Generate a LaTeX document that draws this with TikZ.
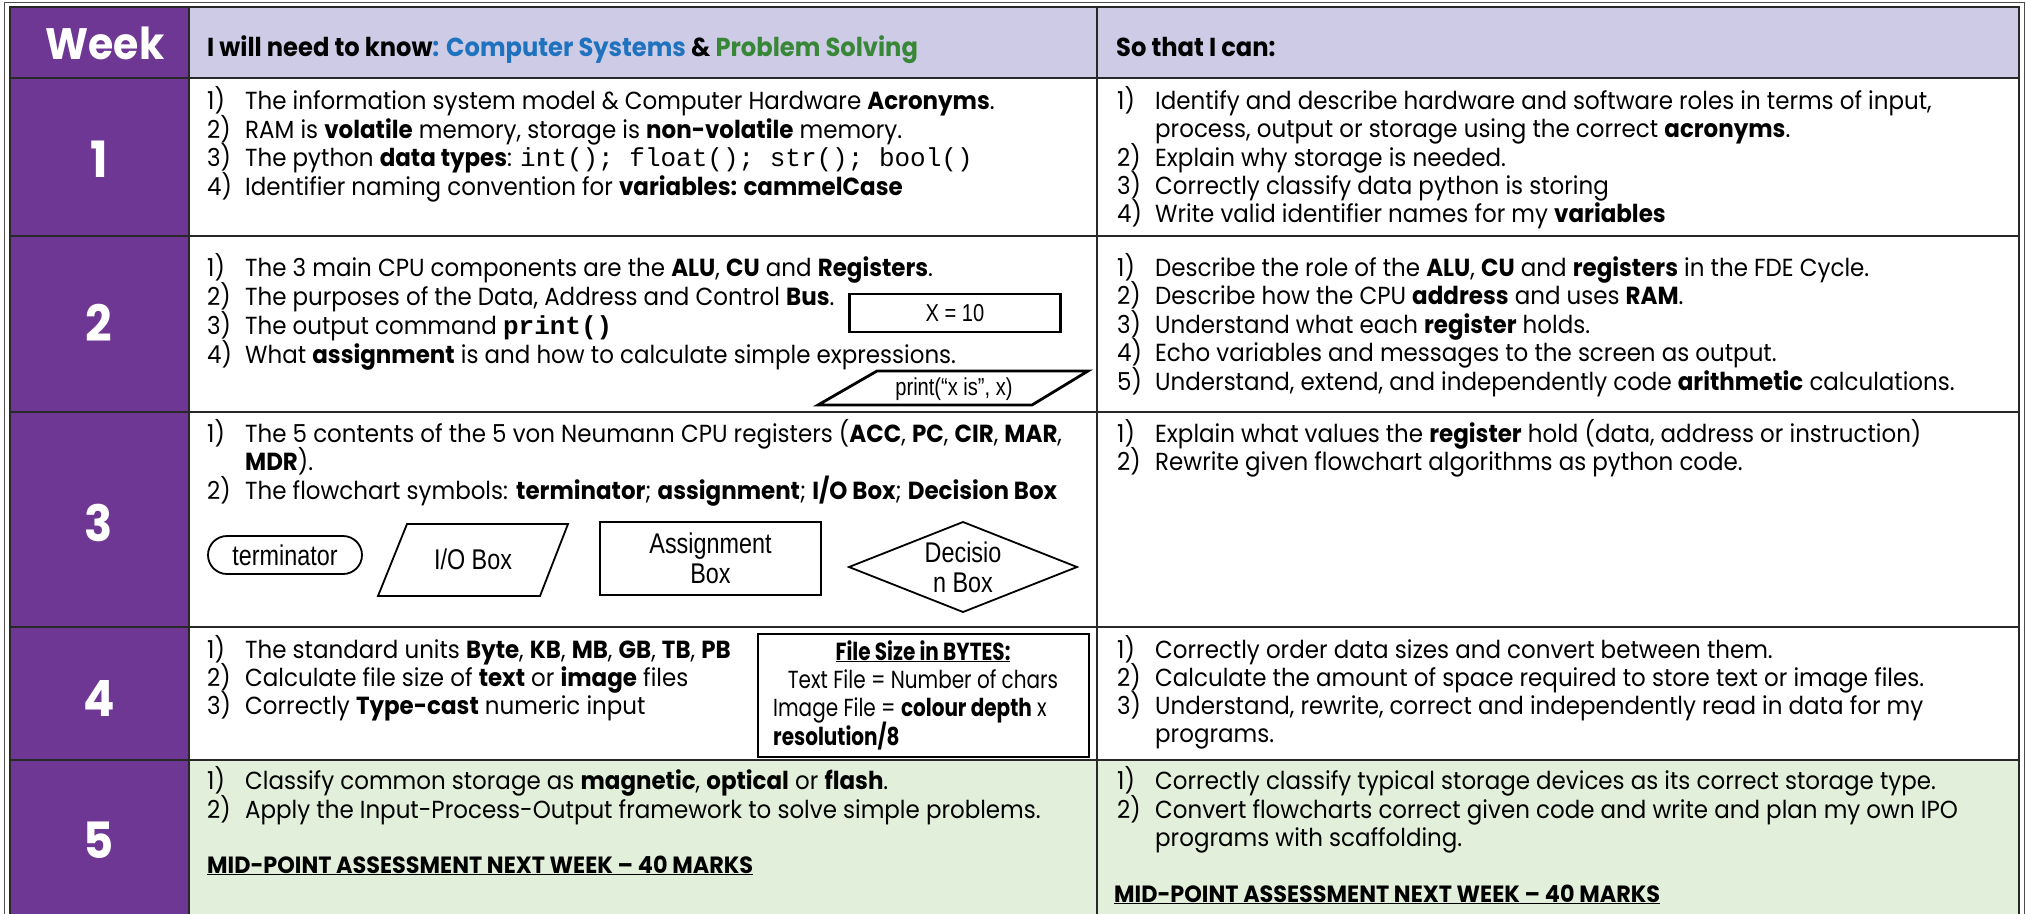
\documentclass[tikz,border=0pt]{standalone}
\usepackage{fontspec}
\setmainfont[FakeStretch=0.93]{Poppins}
\setmonofont{Liberation Mono}
\newfontfamily\chartfont[FakeStretch=0.82]{Liberation Sans}
\newfontfamily\capsfont[FakeStretch=0.95]{Poppins}
\newfontfamily\narrowfont[FakeStretch=0.81]{Poppins}

\definecolor{weekpurple}{RGB}{111,55,148}
\definecolor{headlav}{RGB}{205,203,230}
\definecolor{rowgreen}{RGB}{226,239,218}
\definecolor{sysblue}{RGB}{30,114,190}
\definecolor{solvegreen}{RGB}{55,135,55}
\definecolor{gridline}{RGB}{40,40,40}

% one line of cell text, placed by its baseline
\newcommand\cellline[4]{\node[body] (#1) at (#2,#3) {#4};}
% hanging item number
\newcommand\itemno[1]{\makebox[38pt][l]{#1}}
% code in a slightly larger monospace
\newcommand\code[1]{{\fontsize{26}{28.5}\selectfont\ttfamily #1}}

\begin{document}
\begin{tikzpicture}[x=1pt,y=-1pt,
  body/.style={font=\fontsize{24.7}{28.5}\selectfont, inner sep=0pt, anchor=base west},
  boxtext/.style={font=\narrowfont\fontsize{24.7}{28.5}\selectfont, inner sep=0pt, anchor=base west},
  headtext/.style={font=\fontsize{26}{28.5}\selectfont\bfseries, inner sep=0pt, anchor=base west},
  grid/.style={draw=gridline, line width=2.4pt},
  chartbox/.style={draw=black, line width=2.8pt},
  chartthin/.style={draw=black, line width=1.8pt},
  charttext/.style={font=\chartfont\fontsize{28.5}{30}\selectfont, inner sep=0pt, align=center},
  smallchart/.style={font=\chartfont\fontsize{24.5}{26}\selectfont, inner sep=0pt},
  weeknum/.style={font=\fontsize{50}{50}\selectfont\bfseries, text=white, inner sep=0pt},
  midpoint/.style={font=\capsfont\fontsize{23.5}{28}\selectfont\bfseries, inner sep=0pt, anchor=base west},
]
\useasboundingbox (0,0) rectangle (2026,913);

% backgrounds
\fill[white] (0,0) rectangle (2026,913);
\fill[headlav] (10,7) rectangle (2019,78);
\fill[rowgreen] (189,760) rectangle (2019,920);
\fill[weekpurple] (10,7) rectangle (189,920);

% outer frame and table grid
\draw[line width=1pt, draw=gray!60!black] (4,2) rectangle (2024,925);
\draw[grid] (10,7) rectangle (2019,925);
\foreach \yy in {78,236,412,627,760} \draw[grid] (10,\yy) -- (2019,\yy);
\draw[grid] (189,7) -- (189,925);
\draw[grid] (1097,7) -- (1097,925);

% week column
\node[font=\fontsize{44}{44}\selectfont\bfseries, text=white, inner sep=0pt] (week) at (105,43) {Week};
\node[weeknum] (w1) at (99,159) {1};
\node[weeknum] (w2) at (99,323) {2};
\node[weeknum] (w3) at (99,523) {3};
\node[weeknum] (w4) at (99,698) {4};
\node[weeknum] (w5) at (99,840) {5};

% header
\node[headtext] (hknow) at (207,56) {I will need to know\textcolor{sysblue}{: Computer Systems} \& \textcolor{solvegreen}{Problem Solving}};
\node[headtext] (hcan) at (1116,56) {So that I can:};

% week 1
\cellline{ka}{207}{109}{\itemno{1)}The information system model \& Computer Hardware \textbf{Acronyms}.}
\cellline{kb}{207}{138}{\itemno{2)}RAM is \textbf{volatile} memory, storage is \textbf{non-volatile} memory.}
\cellline{kc}{207}{166}{\itemno{3)}The python \textbf{data types}: \code{int(); float(); str(); bool()}}
\cellline{kd}{207}{195}{\itemno{4)}Identifier naming convention for \textbf{variables: cammelCase}}

\cellline{ca}{1117}{109}{\itemno{1)}Identify and describe hardware and software roles in terms of input,}
\cellline{cb}{1155}{137.5}{process, output or storage using the correct \textbf{acronyms}.}
\cellline{cc}{1117}{166}{\itemno{2)}Explain why storage is needed.}
\cellline{cd}{1117}{194}{\itemno{3)}Correctly classify data python is storing}
\cellline{ce}{1117}{222}{\itemno{4)}Write valid identifier names for my \textbf{variables}}

% week 2
\cellline{kf}{207}{276}{\itemno{1)}The 3 main CPU components are the \textbf{ALU}, \textbf{CU} and \textbf{Registers}.}
\cellline{kg}{207}{305}{\itemno{2)}The purposes of the Data, Address and Control \textbf{Bus}.}
\cellline{kh}{207}{334}{\itemno{3)}The output command \code{\bfseries print()}}
\cellline{ki}{207}{363}{\itemno{4)}What \textbf{assignment} is and how to calculate simple expressions.}

\node[chartbox, smallchart, minimum width=211, minimum height=38] (xten) at (955,313) {X = 10};
\draw[chartbox] (877,371) -- (1088,371) -- (1032,405) -- (818,405) -- cycle;
\node[smallchart] (printx) at (954,389) {print(“x is”, x)};

\cellline{cf}{1117}{276}{\itemno{1)}Describe the role of the \textbf{ALU}, \textbf{CU} and \textbf{registers} in the FDE Cycle.}
\cellline{cg}{1117}{304.5}{\itemno{2)}Describe how the CPU \textbf{address} and uses \textbf{RAM}.}
\cellline{ch}{1117}{333}{\itemno{3)}Understand what each \textbf{register} holds.}
\cellline{ci}{1117}{361.5}{\itemno{4)}Echo variables and messages to the screen as output.}
\cellline{cj}{1117}{390}{\itemno{5)}Understand, extend, and independently code \textbf{arithmetic} calculations.}

% week 3
\cellline{kl}{207}{442}{\itemno{1)}The 5 contents of the 5 von Neumann CPU registers (\textbf{ACC}, \textbf{PC}, \textbf{CIR}, \textbf{MAR},}
\cellline{km}{245}{470.5}{\textbf{MDR}).}
\cellline{kn}{207}{499}{\itemno{2)}The flowchart symbols: \textbf{terminator}; \textbf{assignment}; \textbf{I/O Box}; \textbf{Decision Box}}

\node[chartthin, charttext, rounded corners=19, minimum width=154, minimum height=38] (term) at (285,555) {terminator};
\draw[chartthin] (407,524) -- (568,524) -- (540,596) -- (378,596) -- cycle;
\node[charttext] (iobox) at (473,559) {I/O Box};
\node[chartthin, charttext, minimum width=221, minimum height=73] (assign) at (710.5,558.5) {Assignment\\Box};
\draw[chartthin] (849,567) -- (963,522) -- (1077,567) -- (963,612) -- cycle;
\node[charttext] (decide) at (963,567) {Decisio\\n Box};

\cellline{cl}{1117}{442}{\itemno{1)}Explain what values the \textbf{register} hold (data, address or instruction)}
\cellline{cm}{1117}{470.5}{\itemno{2)}Rewrite given flowchart algorithms as python code.}

% week 4
\cellline{ko}{207}{658}{\itemno{1)}The standard units \textbf{Byte}, \textbf{KB}, \textbf{MB}, \textbf{GB}, \textbf{TB}, \textbf{PB}}
\cellline{kp}{207}{686}{\itemno{2)}Calculate file size of \textbf{text} or \textbf{image} files}
\cellline{kq}{207}{714}{\itemno{3)}Correctly \textbf{Type-cast} numeric input}

\draw[chartbox] (758,634) rectangle (1089,757);
\node[boxtext, anchor=base] (fsa) at (923,660) {\bfseries\underline{File Size in BYTES:}};
\node[boxtext, anchor=base] (fsb) at (923,688) {Text File = Number of chars};
\node[boxtext] (fsc) at (773,716) {Image File = \textbf{colour depth} x};
\node[boxtext] (fsd) at (773,745) {\textbf{resolution/8}};

\cellline{co}{1117}{658}{\itemno{1)}Correctly order data sizes and convert between them.}
\cellline{cp}{1117}{686}{\itemno{2)}Calculate the amount of space required to store text or image files.}
\cellline{cq}{1117}{714}{\itemno{3)}Understand, rewrite, correct and independently read in data for my}
\cellline{cr}{1155}{742}{programs.}

% week 5
\cellline{kr}{207}{789}{\itemno{1)}Classify common storage as \textbf{magnetic}, \textbf{optical} or \textbf{flash}.}
\cellline{ks}{207}{818}{\itemno{2)}Apply the Input-Process-Output framework to solve simple problems.}
\node[midpoint] (kmid) at (207,873) {\underline{MID-POINT ASSESSMENT NEXT WEEK – 40 MARKS}};

\cellline{cs}{1117}{789}{\itemno{1)}Correctly classify typical storage devices as its correct storage type.}
\cellline{ct}{1117}{818}{\itemno{2)}Convert flowcharts correct given code and write and plan my own IPO}
\cellline{cu}{1155}{846}{programs with scaffolding.}
\node[midpoint] (cmid) at (1114,902) {\underline{MID-POINT ASSESSMENT NEXT WEEK – 40 MARKS}};
\end{tikzpicture}
\end{document}
